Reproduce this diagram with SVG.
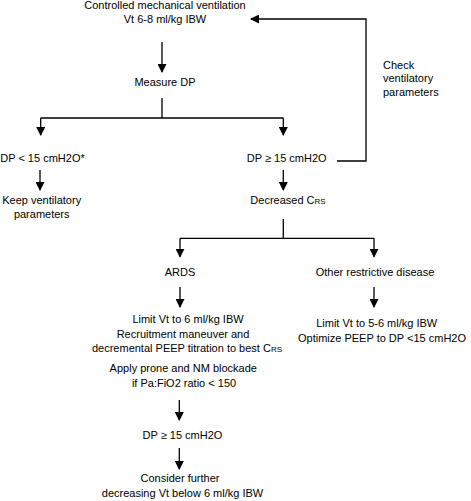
<svg xmlns="http://www.w3.org/2000/svg" width="471" height="501" viewBox="0 0 471 501">
<defs>
<marker id="ah" markerWidth="9" markerHeight="9" refX="8" refY="4.5" orient="auto" markerUnits="userSpaceOnUse">
<path d="M0,0 L9,4.5 L0,9 Z" fill="#000"/>
</marker>
<style>
text{font-family:"Liberation Sans",Arial,sans-serif;font-size:11px;fill:#000;text-anchor:middle}
.l{text-anchor:start}
.sub{font-size:8px}
.c line,.c path{stroke:#000;stroke-width:1.3;fill:none}
.a{marker-end:url(#ah)}
</style>
</defs>
<rect width="471" height="501" fill="#fff"/>
<g class="c" id="connectors">
<line class="a" x1="162" y1="42" x2="162" y2="72"/>
<path d="M162,98 V118 M40.7,118 H283.3"/>
<line class="a" x1="40.7" y1="118" x2="40.7" y2="135"/>
<line class="a" x1="283.3" y1="118" x2="283.3" y2="135"/>
<path class="a" d="M337,161 H366 V19 H251"/>
<line class="a" x1="40" y1="170" x2="40" y2="190"/>
<line class="a" x1="283.3" y1="170" x2="283.3" y2="190"/>
<path d="M283.3,219 V238.3 M180,238.3 H374"/>
<line class="a" x1="180" y1="238.3" x2="180" y2="256.7"/>
<line class="a" x1="374" y1="238.3" x2="374" y2="256.7"/>
<line class="a" x1="180" y1="287" x2="180" y2="307"/>
<line class="a" x1="374" y1="287" x2="374" y2="307"/>
<line class="a" x1="179.3" y1="400" x2="179.3" y2="420"/>
<line class="a" x1="179.3" y1="448" x2="179.3" y2="469"/>
</g>
<g id="start"><text x="165" y="9">Controlled mechanical ventilation</text><text x="165" y="23">Vt 6-8 ml/kg IBW</text></g>
<g id="measure"><text x="165" y="86">Measure DP</text></g>
<g id="check"><text class="l" x="383" y="68.5">Check</text><text class="l" x="383" y="82">ventilatory</text><text class="l" x="383" y="95.5">parameters</text></g>
<g id="dplow"><text x="42.5" y="162">DP &lt; 15 cmH2O*</text></g>
<g id="keep"><text x="41.7" y="204">Keep ventilatory</text><text x="41.7" y="218">parameters</text></g>
<g id="dphigh"><text x="286.7" y="162">DP ≥ 15 cmH2O</text></g>
<g id="crs"><text x="288" y="204">Decreased C<tspan class="sub">RS</tspan></text></g>
<g id="ards"><text x="180" y="276">ARDS</text></g>
<g id="other"><text x="375" y="276">Other restrictive disease</text></g>
<g id="ardsplan"><text x="188" y="323">Limit Vt to 6 ml/kg IBW</text><text x="183" y="337.7">Recruitment maneuver and</text><text x="187" y="352">decremental PEEP titration to best C<tspan class="sub">RS</tspan></text><text x="183.3" y="371.7">Apply prone and NM blockade</text><text x="184" y="386.7">if Pa:FiO2 ratio &lt; 150</text></g>
<g id="otherplan"><text x="376.7" y="327">Limit Vt to 5-6 ml/kg IBW</text><text x="382" y="341.7">Optimize PEEP to DP &lt;15 cmH2O</text></g>
<g id="dphigh2"><text x="182.5" y="439.3">DP ≥ 15 cmH2O</text></g>
<g id="consider"><text x="180" y="481.7">Consider further</text><text x="182.5" y="496.7">decreasing Vt below 6 ml/kg IBW</text></g>
</svg>
